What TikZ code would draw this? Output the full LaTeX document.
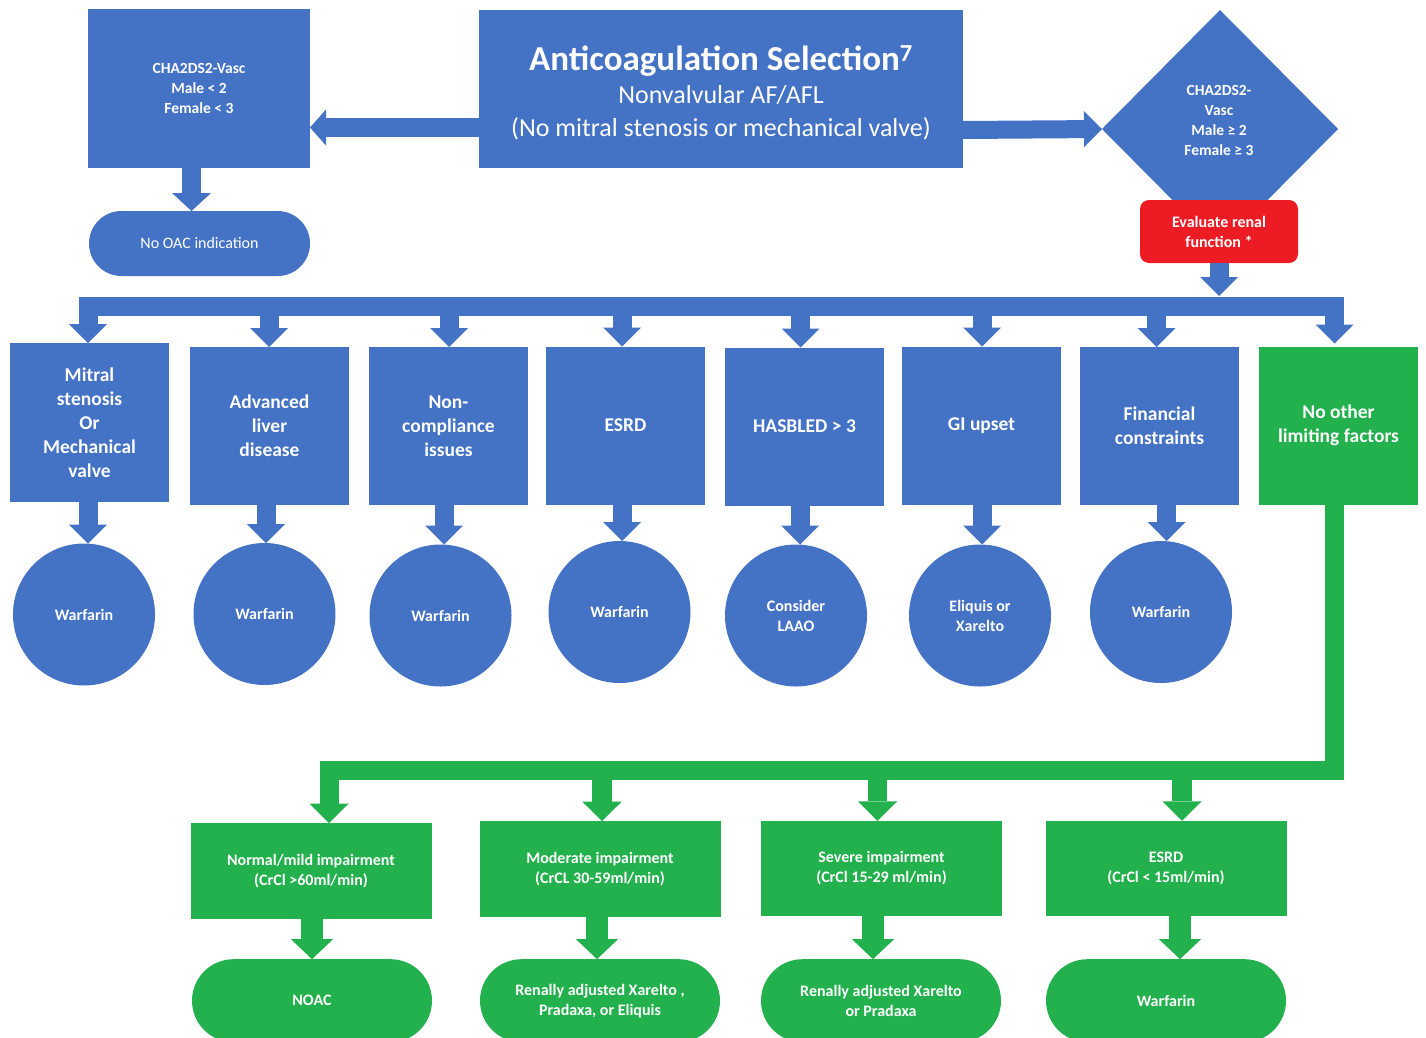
\documentclass[tikz,border=0pt]{standalone}
\usepackage{fontspec}
\setmainfont{Carlito}
\usetikzlibrary{shapes.geometric,arrows.meta}
\definecolor{cblue}{HTML}{4472C4}
\definecolor{cgreen}{HTML}{22B14C}
\definecolor{cred}{HTML}{ED1C24}
\begin{document}
\begin{tikzpicture}[x=1pt,y=-1pt,
  every node/.style={inner sep=0pt,outer sep=0pt,text=white,align=center},
  bbox/.style={fill=cblue,minimum width=159pt,minimum height=158pt,font=\fontsize{19.5}{24}\selectfont\bfseries},
  gbox/.style={fill=cgreen,minimum width=241pt,minimum height=95.5pt,font=\fontsize{16}{20}\selectfont\bfseries},
  circ/.style={circle,fill=cblue,minimum size=142pt,font=\fontsize{16}{20}\selectfont\bfseries},
  pill/.style={fill=cgreen,minimum width=240pt,minimum height=83pt,rounded corners=41.5pt,font=\fontsize{16}{20}\selectfont\bfseries},
  barrow/.style={draw=cblue,line width=19pt,-{Triangle[width=38pt,length=19pt,line width=0pt]}},
  garrow/.style={draw=cgreen,line width=19.5pt,-{Triangle[width=39.5pt,length=19.5pt,line width=0pt]}},
  gdarrow/.style={draw=cgreen,line width=22pt,-{Triangle[width=42pt,length=20pt,line width=0pt]}},
]
\useasboundingbox (0,0) rectangle (1426,1038);

% top row
\node[fill=cblue,minimum width=222pt,minimum height=159pt,font=\fontsize{15.5}{20}\selectfont\bfseries] (cha) at (199,88.5) {CHA2DS2-Vasc\\Male < 2\\Female < 3};
\node[fill=cblue,minimum width=221pt,minimum height=65pt,rounded corners=32.5pt,font=\fontsize{16}{20}\selectfont] (noac) at (199.5,243.5) {No OAC indication};
\node[fill=cblue,minimum width=484pt,minimum height=158pt] (mainbox) at (721,89) {};
\node[font=\fontsize{26}{33}\selectfont] (maintext) at (721,93) {{\fontsize{35}{33}\selectfont\bfseries Anticoagulation Selection\textsuperscript{7}}\\Nonvalvular AF/AFL\\(No mitral stenosis or mechanical valve)};
\node[diamond,fill=cblue,minimum width=236pt,minimum height=238pt] (dia) at (1220,129) {};
\node[font=\fontsize{15.5}{20}\selectfont\bfseries] (diatext) at (1219,120) {CHA2DS2-\\Vasc\\Male ≥ 2\\Female ≥ 3};
\node[fill=cred,minimum width=158pt,minimum height=63pt,rounded corners=9pt,font=\fontsize{16}{20}\selectfont\bfseries] (renal) at (1219,231.5) {Evaluate renal\\function *};

\draw[barrow,line width=19pt,-{Triangle[width=36pt,length=16pt,line width=0pt]}] ([yshift=-38.5pt]mainbox.west) -- ([yshift=-39pt]cha.east);
\draw[barrow,line width=18pt,-{Triangle[width=36pt,length=18pt,line width=0pt]}] ([yshift=-41pt]mainbox.east) -- (dia.west);
\draw[barrow,-{Triangle[width=39pt,length=18pt,line width=0pt]}] ([xshift=-7.5pt]cha.south) -- ([xshift=-8pt]noac.north);

% condition boxes
\node[bbox,minimum height=159pt] (b1) at (89.5,422.5) {Mitral\\stenosis\\Or\\Mechanical\\valve};
\node[bbox] (b2) at (269.5,426) {Advanced\\liver\\disease};
\node[bbox] (b3) at (448.5,426) {Non-\\compliance\\issues};
\node[bbox] (b4) at (625.5,425.5) {ESRD};
\node[bbox] (b5) at (804.5,426.5) {HASBLED > 3};
\node[bbox] (b6) at (981.5,425.5) {GI upset};
\node[bbox] (b7) at (1159.5,426) {Financial\\constraints};
\node[bbox,fill=cgreen] (b8) at (1338.5,425.5) {No other\\limiting factors};

% outcome circles
\node[circ] (c1) at (84,614.5) {Warfarin};
\node[circ] (c2) at (264.5,614) {Warfarin};
\node[circ] (c3) at (440.5,615.5) {Warfarin};
\node[circ] (c4) at (619.5,612) {Warfarin};
\node[circ] (c5) at (796,615.5) {Consider\\LAAO};
\node[circ] (c6) at (980,615.5) {Eliquis or\\Xarelto};
\node[circ] (c7) at (1161,612) {Warfarin};

% bus
\coordinate (busy) at (0,306);
\coordinate (tipL) at ([xshift=-1.5pt]b1.north);
\coordinate (tipR) at ([xshift=-4pt,yshift=3pt]b8.north);
\draw[draw=cblue,line width=19pt,line join=miter,{Triangle[width=38pt,length=19pt,line width=0pt]}-{Triangle[width=38pt,length=19pt,line width=0pt]}] (tipL) -- (tipL |- busy) -- (tipR |- busy) -- (tipR);
\coordinate (busjoin) at ([yshift=-33pt]renal.south);
\draw[barrow] (renal.south) -- (busjoin);
\draw[barrow] ([xshift=-0.5pt,yshift=35pt]b2.north) -- ([xshift=-0.5pt]b2.north);
\draw[barrow] ([xshift=0.5pt,yshift=35pt]b3.north) -- ([xshift=0.5pt]b3.north);
\draw[barrow] ([xshift=-3.5pt,yshift=34pt]b4.north) -- ([xshift=-3.5pt]b4.north);
\draw[barrow] ([xshift=-3.8pt,yshift=35pt]b5.north) -- ([xshift=-3.8pt]b5.north);
\draw[barrow] ([xshift=0.5pt,yshift=34pt]b6.north) -- ([xshift=0.5pt]b6.north);
\draw[barrow] ([xshift=-3pt,yshift=35pt]b7.north) -- ([xshift=-3pt]b7.north);

% box to circle
\draw[barrow] ([xshift=-1.5pt]b1.south) -- ([xshift=4pt]c1.north);
\draw[barrow] ([xshift=-3.5pt]b2.south) -- ([xshift=1.5pt]c2.north);
\draw[barrow] ([xshift=-4.5pt]b3.south) -- ([xshift=3.5pt]c3.north);
\draw[barrow] ([xshift=-3.5pt]b4.south) -- ([xshift=2.5pt]c4.north);
\draw[barrow] ([xshift=-4.5pt]b5.south) -- ([xshift=4pt]c5.north);
\draw[barrow] ([xshift=0.5pt]b6.south) -- ([xshift=2pt]c6.north);
\draw[barrow] ([xshift=7pt]b7.south) -- ([xshift=5.5pt]c7.north);

% renal function boxes
\node[gbox,minimum height=96pt] (g1) at (311,871) {Normal/mild impairment\\(CrCl >60ml/min)};
\node[gbox] (g2) at (600,868.8) {Moderate impairment\\(CrCL 30-59ml/min)};
\node[gbox] (g3) at (881.5,868.5) {Severe impairment\\(CrCl 15-29 ml/min)};
\node[gbox] (g4) at (1166,868.5) {ESRD\\(CrCl < 15ml/min)};

\node[pill] (p1) at (312,1000.7) {NOAC};
\node[pill] (p2) at (600,1000.7) {Renally adjusted Xarelto ,\\Pradaxa, or Eliquis};
\node[pill] (p3) at (881,1000.7) {Renally adjusted Xarelto\\or Pradaxa};
\node[pill] (p4) at (1166,1000.7) {Warfarin};

\draw[garrow,line width=19pt,line join=miter] ([xshift=-4pt]b8.south) -- ++(0,265.8) -| ([xshift=18pt]g1.north);
\draw[garrow] ([xshift=2pt,yshift=45pt]g2.north) -- ([xshift=2pt]g2.north);
\draw[garrow] ([xshift=-4pt,yshift=45pt]g3.north) -- ([xshift=-4pt]g3.north);
\draw[garrow] ([xshift=16pt,yshift=45pt]g4.north) -- ([xshift=16pt]g4.north);

\draw[gdarrow] ([xshift=1pt]g1.south) -- (p1.north);
\draw[gdarrow] ([xshift=-3pt]g2.south) -- ([xshift=-3pt]p2.north);
\draw[gdarrow] ([xshift=-8.5pt]g3.south) -- ([xshift=-8pt]p3.north);
\draw[gdarrow] ([xshift=14pt]g4.south) -- ([xshift=14pt]p4.north);
\end{tikzpicture}
\end{document}
